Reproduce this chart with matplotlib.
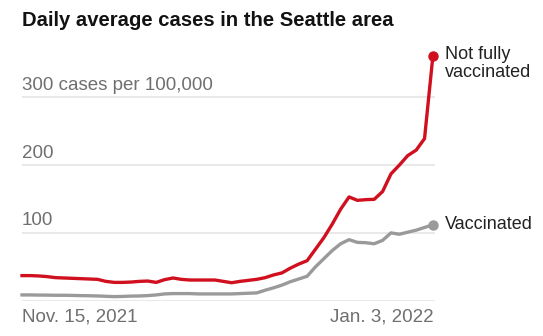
import matplotlib
matplotlib.use("Agg")
import matplotlib.pyplot as plt
import numpy as np

# Day index 0 = Nov. 15, 2021 ... 49 = Jan. 3, 2022
not_fully = [37, 37, 36.5, 35.5, 34, 33.5, 33, 32.5, 32, 31.5,
             28.5, 27, 27, 27.5, 28.5, 29, 27, 31, 33.5, 31.5,
             30.5, 30.5, 30.5, 30.5, 28.5, 26.5, 28.5, 30, 31.5, 34,
             38, 41, 48, 54, 59, 76, 93, 113, 135, 153,
             148, 149, 149.5, 161, 187, 200, 214, 222, 239, 361]
vaccinated = [8.5, 8.5, 8.3, 8.2, 8, 8, 7.8, 7.5, 7.3, 7,
              6.5, 6, 6.3, 6.8, 7, 7.5, 8.5, 10, 10.5, 10.5,
              10.5, 10, 10, 10, 10, 10, 10.5, 11, 11.5, 15.5,
              19, 23, 28, 32, 36, 50, 62, 74, 84, 90,
              86, 85.5, 84, 89, 100, 98, 101, 104, 108, 112]
days = np.arange(len(not_fully))
yticks = [100, 200, 300]
ytick_labels = ["100", "200", "300 cases per 100,000"]
xtick_labels = ["Nov. 15, 2021", "Jan. 3, 2022"]
series_labels = ["Not fully\nvaccinated", "Vaccinated"]

RED = "#d0101f"
GRAY = "#9a9a9a"
FONT = "Liberation Sans"

W, H = 543, 336
fig = plt.figure(figsize=(W / 100, H / 100), dpi=100)
left, right = 22 / W, 435 / W
bottom, top = (H - 300.7) / H, (H - 49.8) / H
ax = fig.add_axes([left, bottom, right - left, top - bottom])
ax.set_xlim(0, 49.25)
ax.set_ylim(0, 370)
ax.axis("off")

for yv in [0] + yticks:
    ax.axhline(yv, color="#e3e3e3", lw=1.1, zorder=0)
for yv, lab in zip(yticks, ytick_labels):
    ax.text(0, yv + 5, lab, ha="left", va="bottom", fontsize=13.5,
            color="#6f6f6f", family=FONT)

ax.plot(days, vaccinated, color=GRAY, lw=2.4, solid_joinstyle="round", clip_on=False)
ax.plot(days, not_fully, color=RED, lw=2.4, solid_joinstyle="round", clip_on=False)
ax.plot(days[-1], vaccinated[-1], "o", color=GRAY, ms=6.5, clip_on=False)
ax.plot(days[-1], not_fully[-1], "o", color=RED, ms=6.5, clip_on=False)

ax.annotate(series_labels[0], (days[-1], not_fully[-1]), xytext=(9, -5.5),
            textcoords="offset points", ha="left", va="center", fontsize=13,
            color="#222222", family=FONT, linespacing=1.1)
ax.annotate(series_labels[1], (days[-1], vaccinated[-1]), xytext=(9, 0),
            textcoords="offset points", ha="left", va="center", fontsize=13,
            color="#222222", family=FONT)

fig.text(22 / W, 1 - 316.5 / H, xtick_labels[0], ha="left", va="center",
         fontsize=13.5, color="#6f6f6f", family=FONT)
fig.text(434 / W, 1 - 316.5 / H, xtick_labels[1], ha="right", va="center",
         fontsize=13.5, color="#6f6f6f", family=FONT)

fig.text(22 / W, 1 - 21 / H, "Daily average cases in the Seattle area",
         ha="left", va="center", fontsize=14.6, fontweight="bold",
         color="#121212", family=FONT)

fig.savefig("out.png", dpi=100, facecolor="white")
